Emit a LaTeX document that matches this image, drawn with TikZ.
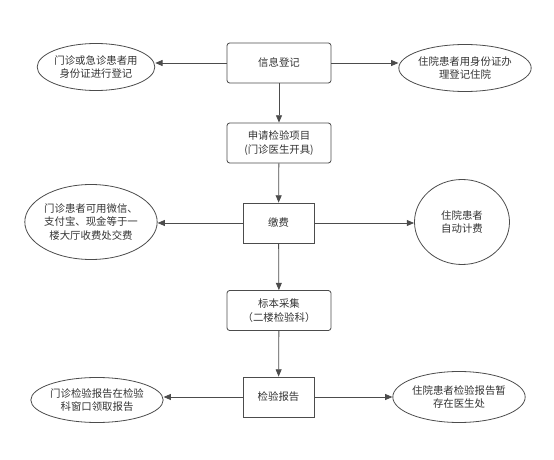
\documentclass[tikz,border=0pt]{standalone}
\usepackage{fontspec}
\setmainfont{Noto Sans CJK SC}
\usetikzlibrary{arrows.meta,shapes.geometric}
\begin{document}
\begin{tikzpicture}[x=0.75pt,y=-0.75pt,
  lc/.style={draw=black!70,line width=0.6pt},
  rbox/.style={lc,rounded corners=2pt,minimum width=104*0.75pt,minimum height=40*0.75pt,align=center,inner sep=0pt},
  sbox/.style={lc,minimum width=71*0.75pt,minimum height=40*0.75pt,align=center,inner sep=0pt},
  ell/.style={lc,ellipse,inner sep=0pt,align=center},
  arr/.style={draw=black!70,line width=0.6pt,-{Triangle[length=5.5pt,width=4.5pt]}},
  font=\fontsize{7.8}{10}\selectfont, text=black!80]
\useasboundingbox (0,0) rectangle (554,460);
\node[rbox] (b1) at (279,63) {信息登记};
\node[rbox] (b2) at (279,143) {申请检验项目\\(门诊医生开具)};
\node[sbox] (b3) at (278.5,223) {缴费};
\node[rbox] (b4) at (279,310.5) {标本采集\\（二楼检验科）};
\node[sbox] (b5) at (278.5,397) {检验报告};
\node[ell,minimum width=97*0.75pt,minimum height=47*0.75pt] (e1l) at (96,67) {门诊或急诊患者用\\身份证进行登记};
\node[ell,minimum width=103*0.75pt,minimum height=47*0.75pt] (e1r) at (465,68) {住院患者用身份证办\\理登记住院};
\node[ell,minimum width=109*0.75pt,minimum height=75*0.75pt] (e3l) at (91,222) {门诊患者可用微信、\\支付宝、现金等于一\\楼大厅收费处交费};
\node[ell,minimum width=95*0.75pt,minimum height=85*0.75pt] (e3r) at (462,222) {住院患者\\自动计费};
\node[ell,minimum width=95*0.75pt,minimum height=45*0.75pt] (e5l) at (97,400) {门诊检验报告在检验\\科窗口领取报告};
\node[ell,minimum width=103*0.75pt,minimum height=51*0.75pt] (e5r) at (459,397) {住院患者检验报告暂\\存在医生处};
\draw[arr] (b1) -- (b2);
\draw[arr] (b2) -- (b3);
\draw[arr] (b3) -- (b4);
\draw[arr] (b4) -- (b5);
\draw[arr] (b1.west) -- (e1l.east |- b1.west);
\draw[arr] (b1.east) -- (e1r.west |- b1.east);
\draw[arr] (b3.west) -- (e3l.east |- b3.west);
\draw[arr] (b3.east) -- (e3r.west |- b3.east);
\draw[arr] (b5.west) -- (e5l.east |- b5.west);
\draw[arr] (b5.east) -- (e5r.west |- b5.east);
\end{tikzpicture}
\end{document}
